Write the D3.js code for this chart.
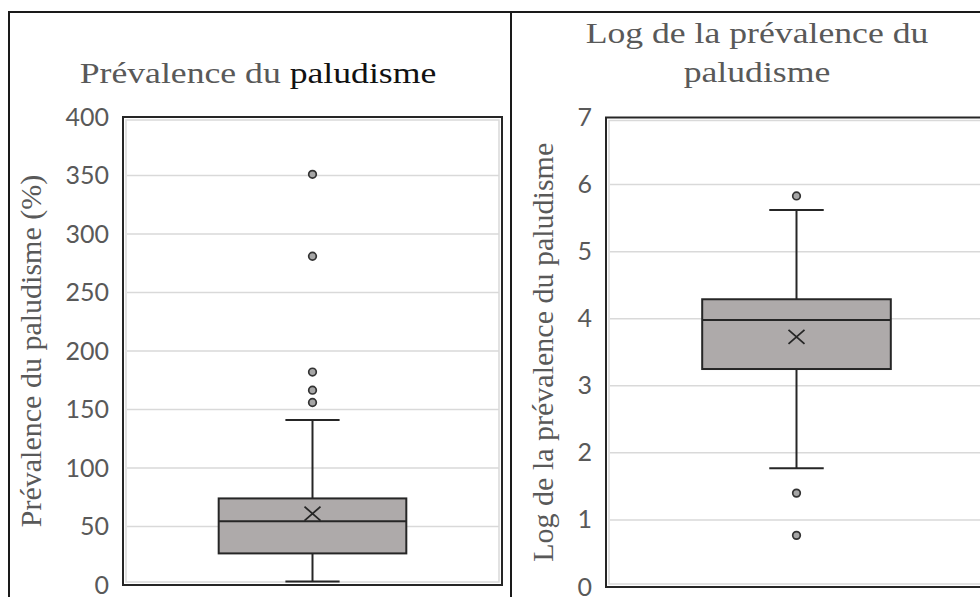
<!DOCTYPE html>
<html><head><meta charset="utf-8">
<script src="https://cdn.jsdelivr.net/npm/d3@7"></script>
<style>body{margin:0;background:#fff}svg{display:block}</style>
</head><body>
<svg id="c" width="980" height="597"></svg>
<script>
// ---- data ----
const categories = ["Prévalence"];
// left panel: prevalence (%)
const leftTicks = [0, 50, 100, 150, 200, 250, 300, 350, 400];
const leftStats = {min: 3, q1: 27, median: 54.5, q3: 74, max: 141, mean: 61};
const leftOutliers = [156, 166.5, 182, 281, 351];
// right panel: log prevalence
const rightTicks = [0, 1, 2, 3, 4, 5, 6, 7];
const rightStats = {min: 1.77, q1: 3.25, median: 3.98, q3: 4.29, max: 5.62, mean: 3.73};
const rightOutliers = [0.77, 1.40, 5.83];

const svg = d3.select("#c");
const gray = "#595959", dark = "#262626";
const SX = 1.17; // horizontal stretch of the reference picture
const serif = "'Liberation Serif', 'Times New Roman', serif";

// outer panel frames
svg.append("path").attr("d", "M9,597 V12 H980 M511,12 V597")
  .attr("fill", "none").attr("stroke", "#1a1a1a").attr("stroke-width", 2);

function panel(cfg) {
  const {x0, x1, y0, y1, ticks, domainMax, stats, outliers, ytitle, ytitleX} = cfg;
  const y = d3.scaleLinear().domain([0, domainMax]).range([y1, y0]);
  const x = d3.scaleBand().domain(categories).range([x0, x1]).paddingInner(0).paddingOuter(0.51);
  const g = svg.append("g");
  // gridlines
  g.selectAll("line.grid").data(ticks.filter(t => t > 0 && t < domainMax)).join("line")
    .attr("x1", x0 + 4).attr("x2", x1 - 3)
    .attr("y1", d => y(d)).attr("y2", d => y(d))
    .attr("stroke", "#d9d9d9").attr("stroke-width", 1.5);
  // plot area frame (inner light + outer dark)
  g.append("rect").attr("x", x0 + 3).attr("y", y0 + 3).attr("width", x1 - x0 - 6).attr("height", y1 - y0 - 6)
    .attr("fill", "none").attr("stroke", "#d9d9d9").attr("stroke-width", 1.5);
  g.append("rect").attr("x", x0).attr("y", y0).attr("width", x1 - x0).attr("height", y1 - y0)
    .attr("fill", "none").attr("stroke", dark).attr("stroke-width", 2);
  // axis labels via d3 axis
  const ax = d3.axisLeft(y).tickValues(ticks).tickSize(0).tickPadding(14).tickFormat(d3.format("d"));
  const ag = g.append("g").attr("transform", `translate(${x0},0)`).call(ax);
  ag.select(".domain").remove();
  ag.selectAll("text").attr("fill", gray).attr("font-family", "Lato, sans-serif").attr("font-size", 25);

  // box
  const cx = x(categories[0]) + x.bandwidth() / 2;
  const bw = x.bandwidth();
  const capW = (x1 - x0) * 0.143;
  const bg = g.append("g").attr("stroke", dark).attr("stroke-width", 2);
  bg.append("line").attr("x1", cx).attr("x2", cx).attr("y1", y(stats.max)).attr("y2", y(stats.q3));
  bg.append("line").attr("x1", cx).attr("x2", cx).attr("y1", y(stats.q1)).attr("y2", y(stats.min));
  [stats.max, stats.min].forEach(v => bg.append("line")
    .attr("x1", cx - capW / 2).attr("x2", cx + capW / 2).attr("y1", y(v)).attr("y2", y(v)));
  bg.append("rect").attr("x", cx - bw / 2).attr("width", bw)
    .attr("y", y(stats.q3)).attr("height", y(stats.q1) - y(stats.q3)).attr("fill", "#aeaaaa");
  bg.append("line").attr("x1", cx - bw / 2).attr("x2", cx + bw / 2).attr("y1", y(stats.median)).attr("y2", y(stats.median));
  // mean cross
  const mw = 8, mh = 7, my = y(stats.mean);
  bg.append("path").attr("d", `M${cx - mw},${my - mh}L${cx + mw},${my + mh}M${cx - mw},${my + mh}L${cx + mw},${my - mh}`)
    .attr("stroke-width", 1.8);
  // outliers
  g.selectAll("circle.o").data(outliers).join("circle")
    .attr("cx", cx).attr("cy", d => y(d)).attr("r", 3.8)
    .attr("fill", "#a6a6a6").attr("stroke", "#333").attr("stroke-width", 1.7);
  // y title
  g.append("text").attr("transform", `translate(${ytitleX},${(y0 + y1) / 2}) rotate(-90)`)
    .attr("text-anchor", "middle").attr("font-family", serif)
    .attr("font-size", 30).attr("fill", gray).text(ytitle);
}

panel({x0: 123, x1: 502, y0: 117, y1: 585, ticks: leftTicks, domainMax: 400,
  stats: leftStats, outliers: leftOutliers, ytitle: "Prévalence du paludisme (%)", ytitleX: 41});
panel({x0: 606, x1: 987, y0: 117.5, y1: 587, ticks: rightTicks, domainMax: 7,
  stats: rightStats, outliers: rightOutliers, ytitle: "Log de la prévalence du paludisme", ytitleX: 553});

// chart titles
const t1 = svg.append("text").attr("transform", `translate(258,83) scale(${SX},1)`)
  .attr("text-anchor", "middle").attr("font-family", serif).attr("font-size", 30.5);
t1.append("tspan").attr("fill", gray).text("Prévalence du ");
t1.append("tspan").attr("fill", "#111").text("paludisme");
const rightTitle = ["Log de la prévalence du", "paludisme"];
rightTitle.forEach((s, i) => svg.append("text")
  .attr("transform", `translate(757,${43 + i * 39}) scale(${SX},1)`)
  .attr("text-anchor", "middle").attr("font-family", serif).attr("font-size", 30.5)
  .attr("fill", gray).text(s));
</script>
</body></html>
